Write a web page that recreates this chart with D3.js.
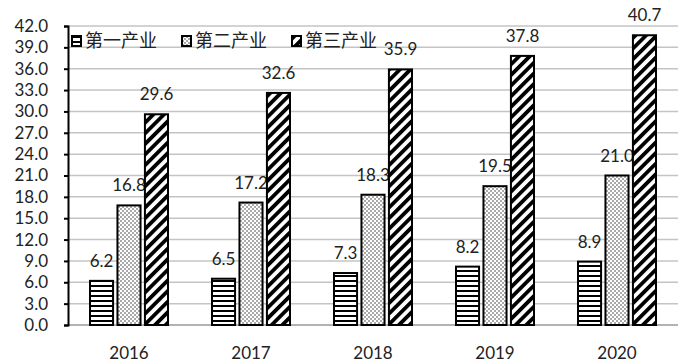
<!DOCTYPE html>
<html lang="zh">
<head>
<meta charset="UTF-8">
<script src="https://d3js.org/d3.v7.min.js"></script>
<style>
    body { margin: 0; background: #fff; }
    text { font-family: "Noto Sans CJK SC", "DejaVu Sans", sans-serif; }
    .num { font-family: Lato, "DejaVu Sans", sans-serif; }
</style>
</head>
<body>
<svg id="chart" width="696" height="364"></svg>
<script>
    // data
    let years = ["2016", "2017", "2018", "2019", "2020"]
    let seriesNames = ["第一产业", "第二产业", "第三产业"]
    let primary = [6.2, 6.5, 7.3, 8.2, 8.9]
    let secondary = [16.8, 17.2, 18.3, 19.5, 21.0]
    let tertiary = [29.6, 32.6, 35.9, 37.8, 40.7]
    let yTicks = [0, 3, 6, 9, 12, 15, 18, 21, 24, 27, 30, 33, 36, 39, 42]

    let series = [primary, secondary, tertiary]
    let patterns = ["hlines", "dots", "diag"]

    let svg = d3.select("#chart")
    let margin = {left: 68, right: 18, top: 26, bottom: 39}
    let width = 696, height = 364

    let x = d3.scaleBand().domain(years).range([margin.left, width - margin.right])
    let xInner = d3.scaleBand().domain(d3.range(3)).range([-39, 39]).paddingInner(0.16)
    let y = d3.scaleLinear().domain([0, 42]).range([height - margin.bottom, margin.top])

    // patterns
    let defs = svg.append("defs")
    let p1 = defs.append("pattern").attr("id", "hlines").attr("patternUnits", "userSpaceOnUse")
        .attr("width", 6).attr("height", 5)
    p1.append("rect").attr("width", 6).attr("height", 5).attr("fill", "#fff")
    p1.append("rect").attr("y", 0).attr("width", 6).attr("height", 2).attr("fill", "#000")

    let p2 = defs.append("pattern").attr("id", "dots").attr("patternUnits", "userSpaceOnUse")
        .attr("width", 4).attr("height", 4)
    p2.append("rect").attr("width", 4).attr("height", 4).attr("fill", "#fff")
    p2.append("circle").attr("cx", 1).attr("cy", 1).attr("r", 0.7).attr("fill", "#111")
    p2.append("circle").attr("cx", 3).attr("cy", 3).attr("r", 0.7).attr("fill", "#111")

    let p3 = defs.append("pattern").attr("id", "diag").attr("patternUnits", "userSpaceOnUse")
        .attr("width", 7.5).attr("height", 7.5).attr("patternTransform", "rotate(45)")
    p3.append("rect").attr("width", 7.5).attr("height", 7.5).attr("fill", "#fff")
    p3.append("rect").attr("x", 0).attr("width", 3.8).attr("height", 7.5).attr("fill", "#000")

    // gridlines
    svg.append("g").selectAll("line")
        .data(yTicks)
        .join("line")
        .attr("x1", margin.left).attr("x2", width - margin.right)
        .attr("y1", d => y(d)).attr("y2", d => y(d))
        .attr("stroke", d => d === 0 ? "#999" : "#c4c4c4")
        .attr("stroke-width", 1.5)

    // y axis
    let yAxis = d3.axisLeft(y).tickValues(yTicks).tickFormat(d3.format(".1f")).tickSize(4).tickPadding(16)
    let gy = svg.append("g").attr("transform", `translate(${margin.left},0)`).call(yAxis)
    gy.select(".domain").attr("stroke", "#000").attr("stroke-width", 2)
    gy.selectAll(".tick line").attr("stroke", "#000").attr("stroke-width", 2)
    gy.selectAll(".tick text").attr("class", "num").attr("font-size", 17).attr("fill", "#222")

    // x labels
    svg.append("g").selectAll("text")
        .data(years)
        .join("text")
        .attr("class", "num")
        .attr("x", d => x(d) + x.bandwidth() / 2)
        .attr("y", height - 5)
        .attr("text-anchor", "middle")
        .attr("font-size", 17)
        .attr("fill", "#222")
        .text(d => d)

    // bars
    series.forEach((vals, si) => {
        let g = svg.append("g")
        g.selectAll("rect")
            .data(vals)
            .join("rect")
            .attr("x", (d, i) => x(years[i]) + x.bandwidth() / 2 + xInner(si))
            .attr("width", xInner.bandwidth())
            .attr("y", d => y(d))
            .attr("height", d => y(0) - y(d))
            .attr("fill", `url(#${patterns[si]})`)
            .attr("stroke", "#000")
            .attr("stroke-width", 2)
        g.selectAll("text")
            .data(vals)
            .join("text")
            .attr("class", "num")
            .attr("x", (d, i) => x(years[i]) + x.bandwidth() / 2 + xInner(si) + xInner.bandwidth() / 2)
            .attr("y", d => y(d) - 14)
            .attr("text-anchor", "middle")
            .attr("font-size", 17)
            .attr("fill", "#222")
            .text(d => d.toFixed(1))
    })

    // legend
    let legendX = [72, 182, 292]
    let legend = svg.append("g")
    seriesNames.forEach((name, i) => {
        let lg = legend.append("g").attr("transform", `translate(${legendX[i]},36)`)
        lg.append("rect").attr("x", 0).attr("y", 0).attr("width", 9).attr("height", 10)
            .attr("fill", `url(#${patterns[i]})`).attr("stroke", "#000").attr("stroke-width", 2)
        lg.append("text").attr("x", 13).attr("y", 11).attr("font-size", 18).attr("fill", "#222")
            .text(name)
    })
</script>
</body>
</html>
